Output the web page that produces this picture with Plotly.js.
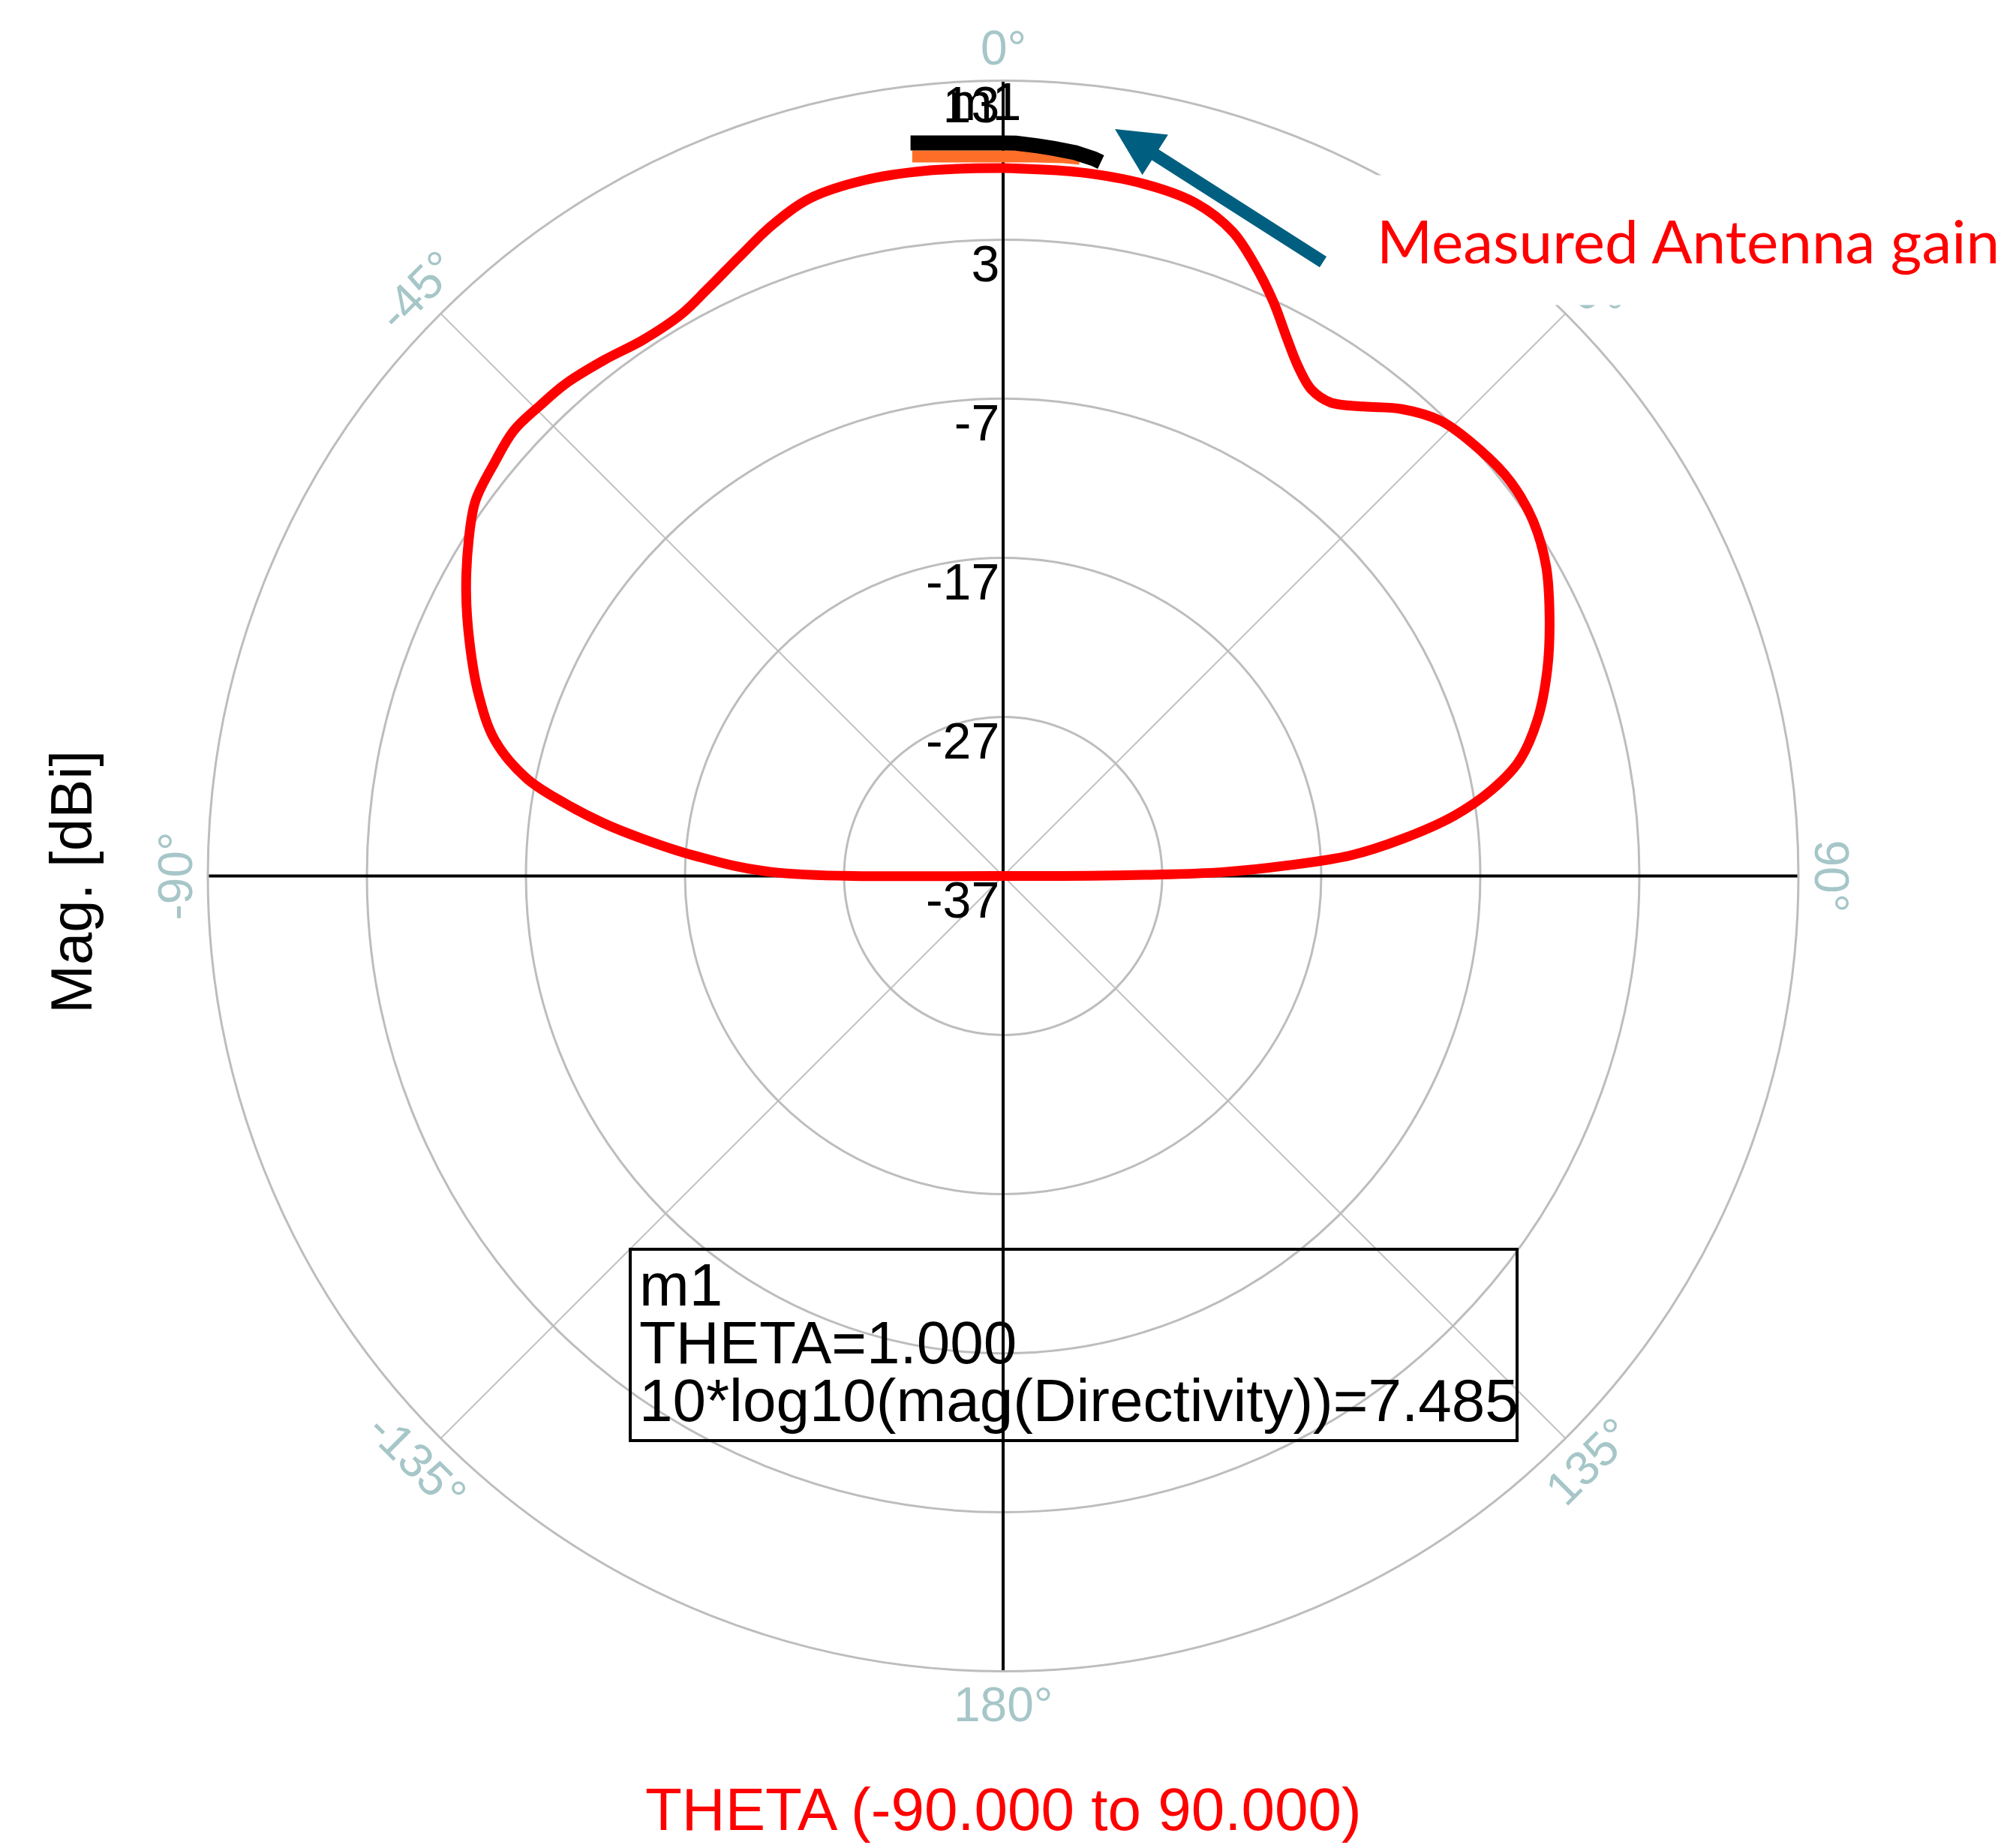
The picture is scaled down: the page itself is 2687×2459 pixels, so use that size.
<!DOCTYPE html>
<html>
<head>
<meta charset="utf-8">
<script src="https://cdn.plot.ly/plotly-3.0.1.min.js"></script>
<style>html,body{margin:0;padding:0;background:#ffffff;}</style>
</head>
<body>
<div id="chart" style="width:2687px;height:2459px;"></div>
<script>
// ---------------- data ----------------
// simulated directivity pattern (dBi) vs THETA (deg); lower hemisphere sits at the -37 floor (centre)
const patternTheta = [-180, -89.0, -86.2, -84.1, -82.5, -80.6, -78.4, -75.0, -70.9, -66.4, -62.1, -57.8, -54.6, -50.9, -47.7, -44.5, -41.6, -37.7, -33.9, -29.8, -26.8, -23.1, -19.6, -15.9, -11.5, -6.2, 0, 1, 6.2, 11.5, 16.0, 19.6, 22.3, 25.2, 27.7, 30.1, 32.4, 34.7, 37.5, 40.5, 43.9, 48.2, 52.2, 56.2, 60.3, 64.7, 69.2, 73.7, 77.5, 80.0, 82.4, 84.7, 86.6, 87.9, 89.0, 89.5, 180];
const patternR = [-37, -22.4, -17.5, -14.2, -11.7, -9.1, -6.4, -3.9, -2.1, -0.4, 1.2, 2.7, 3.7, 4.2, 4.6, 4.5, 4.4, 4.0, 3.6, 3.7, 4.3, 5.3, 6.4, 7.3, 7.6, 7.6, 7.5, 7.485, 7.5, 7.4, 7.0, 6.0, 4.6, 2.9, 1.3, 0.0, -0.8, -0.8, 0.2, 1.6, 2.7, 3.2, 3.4, 3.1, 2.3, 1.0, -0.4, -2.0, -3.8, -5.8, -8.4, -11.8, -15.1, -19.2, -23.2, -27.3, -37];

// measured antenna gain (short arcs near boresight)
const measBlackTheta = [-7.2, -5, -3, -1, 0, 1, 2.7, 4, 5.7, 7.2, 7.8];
const measBlackR = [9.45, 9.26, 9.15, 9.09, 9.08, 9.08, 8.95, 8.85, 8.70, 8.45, 8.3];
const measOrangeTheta = [-7.2, -4, -1, 0, 2, 4.8, 6.1];
const measOrangeR = [8.59, 8.35, 8.24, 8.24, 8.27, 8.35, 8.35];

// axes
const radialRange = [-37, 13];
const radialTickVals = [-37, -27, -17, -7, 3, 13];
const radialTickText = ['-37', '-27', '-17', '-7', '3', '13'];
const angularGridVals = [0, 45, 90, 135, 180, 225, 270, 315];
const angularTickVals = [0, 45, 90, 135, 180, -135, -90, -45];
const angularTickText = ['0°', '45°', '90°', '135°', '180°', '-135°', '-90°', '-45°'];

// marker m1
const markerName = 'm1';
const markerLines = ['m1', 'THETA=1.000', '10*log10(mag(Directivity))=7.485'];

// ---------------- layout geometry ----------------
const W = 2687, H = 2459;
const CX = 1337, CY = 1167.5, R = 1060;
const ARIAL = 'Liberation Sans, Arial, sans-serif';
const px = x => x / W;
const py = y => 1 - y / H;

const traces = [];
// black main axes lines (0-180 and -90..90) spanning the full diameter
traces.push({type: 'scatterpolar', r: [radialRange[1], radialRange[1]], theta: [0, 180], mode: 'lines',
  line: {color: '#000000', width: 4}, hoverinfo: 'skip', showlegend: false});
traces.push({type: 'scatterpolar', r: [radialRange[1], radialRange[1]], theta: [-90, 90], mode: 'lines',
  line: {color: '#000000', width: 4}, hoverinfo: 'skip', showlegend: false});
// simulated pattern
traces.push({type: 'scatterpolar', r: patternR, theta: patternTheta, mode: 'lines',
  line: {color: '#ff0000', width: 13, shape: 'spline', smoothing: 1.0}, hoverinfo: 'skip', showlegend: false});
// measured gain
traces.push({type: 'scatterpolar', r: measOrangeR, theta: measOrangeTheta, mode: 'lines',
  line: {color: '#ff6e28', width: 16}, hoverinfo: 'skip', showlegend: false});
traces.push({type: 'scatterpolar', r: measBlackR, theta: measBlackTheta, mode: 'lines',
  line: {color: '#000000', width: 20}, hoverinfo: 'skip', showlegend: false});
// radial tick labels
traces.push({type: 'scatterpolar', r: radialTickVals, theta: radialTickVals.map(() => 0),
  text: radialTickText, mode: 'markers+text', textposition: 'bottom left',
  marker: {size: 6, color: 'rgba(0,0,0,0)'}, cliponaxis: false,
  textfont: {family: ARIAL, size: 68, color: '#000000'}, hoverinfo: 'skip', showlegend: false});
// marker name label
traces.push({type: 'scatterpolar', r: [radialRange[1]], theta: [-1.3], text: [markerName],
  mode: 'text', textposition: 'bottom center', cliponaxis: false,
  textfont: {family: ARIAL, size: 70, color: '#000000'}, hoverinfo: 'skip', showlegend: false});

// ---------------- annotations ----------------
const annotations = [];
const labelR = R + 44;
angularTickVals.forEach((t, i) => {
  const a = t * Math.PI / 180;
  const x = CX + labelR * Math.sin(a);
  const y = CY - labelR * Math.cos(a);
  let ang = t;
  if (t > 90) ang = t - 180;
  if (t < -90) ang = t + 180;
  if (t === 180) ang = 0;
  annotations.push({x: px(x), y: py(y), xref: 'paper', yref: 'paper', text: angularTickText[i],
    showarrow: false, textangle: ang, xanchor: 'center', yanchor: 'middle',
    font: {family: ARIAL, size: 64, color: '#a6c6c8'}});
});
// "Measured Antenna gain" callout with white background
annotations.push({x: px(2250), y: py(320), xref: 'paper', yref: 'paper', text: 'Measured Antenna gain',
  showarrow: false, xanchor: 'center', yanchor: 'middle', width: 900, height: 172,
  bgcolor: '#ffffff', borderpad: 0, font: {family: 'Lato, Open Sans, sans-serif', size: 80, color: '#ff0000'}});
// arrow
annotations.push({x: px(1486), y: py(172), xref: 'paper', yref: 'paper', text: '',
  showarrow: true, ax: 279, ay: 178, arrowhead: 2, arrowsize: 0.75, arrowwidth: 17,
  arrowcolor: '#005f80', standoff: 0});
// marker box text
const boxLineY = [1712, 1789, 1866];
markerLines.forEach((t, i) => {
  annotations.push({x: px(850), y: py(boxLineY[i]), xref: 'paper', yref: 'paper', text: t,
    showarrow: false, xanchor: 'left', yanchor: 'middle',
    font: {family: ARIAL, size: 80, color: '#000000'}});
});
// axis titles
annotations.push({x: px(95), y: py(1176), xref: 'paper', yref: 'paper', text: 'Mag. [dBi]',
  showarrow: false, textangle: -90, xanchor: 'center', yanchor: 'middle',
  font: {family: ARIAL, size: 78, color: '#000000'}});
annotations.push({x: px(1337), y: py(2411), xref: 'paper', yref: 'paper', text: 'THETA (-90.000 to 90.000)',
  showarrow: false, xanchor: 'center', yanchor: 'middle',
  font: {family: ARIAL, size: 80, color: '#ff0000'}});

const layout = {
  width: W, height: H,
  margin: {l: 0, r: 0, t: 0, b: 0},
  paper_bgcolor: '#ffffff',
  showlegend: false,
  polar: {
    domain: {x: [px(CX - R), px(CX + R)], y: [py(CY + R), py(CY - R)]},
    bgcolor: '#ffffff',
    radialaxis: {range: radialRange, tickvals: radialTickVals, showticklabels: false, ticks: '',
      showgrid: true, gridcolor: '#bdbdbd', gridwidth: 3, showline: false, angle: 90},
    angularaxis: {rotation: 90, direction: 'clockwise', tickmode: 'array', tickvals: angularGridVals,
      showticklabels: false, ticks: '', showgrid: true, gridcolor: '#c2c2c2', gridwidth: 2,
      showline: true, linecolor: '#bdbdbd', linewidth: 3}
  },
  shapes: [{type: 'rect', xref: 'paper', yref: 'paper', x0: px(840), x1: px(2022), y0: py(1920), y1: py(1665),
    line: {color: '#000000', width: 4}, fillcolor: 'rgba(0,0,0,0)'}],
  annotations: annotations
};

Plotly.newPlot('chart', traces, layout, {staticPlot: true, displayModeBar: false});
</script>
</body>
</html>
